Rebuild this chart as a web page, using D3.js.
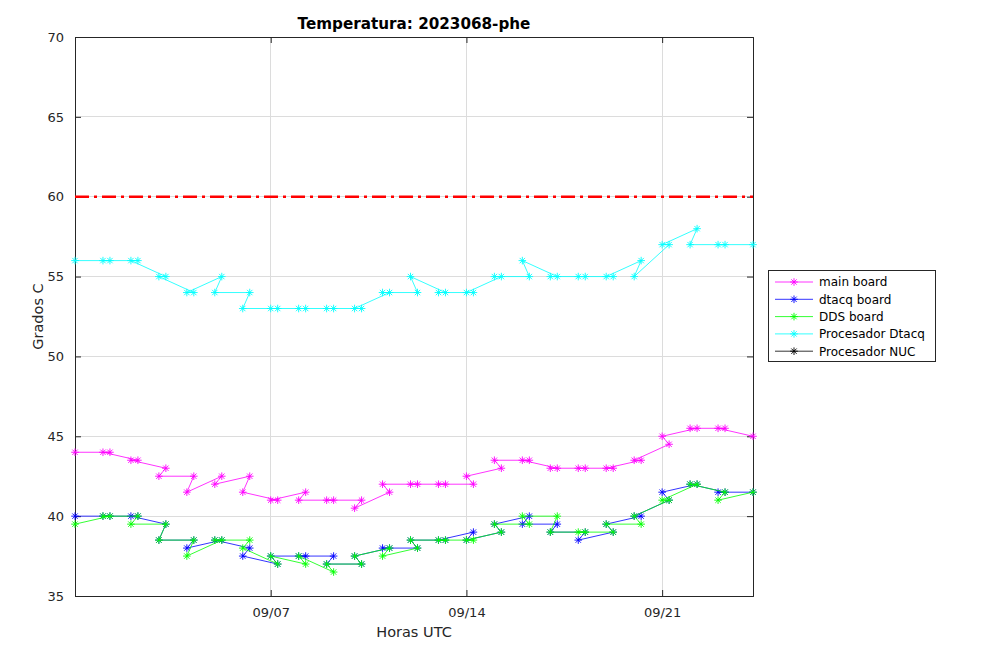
<!DOCTYPE html>
<html><head><meta charset="utf-8">
<script src="https://cdn.jsdelivr.net/npm/d3@7"></script>
<style>
body{margin:0;background:#fff;}
svg{display:block;font-family:"DejaVu Sans",sans-serif;}
</style>
</head><body>
<svg id="c" width="1008" height="661"></svg>
<script>
// ---- data (in acquisition order) ----
const tiempos = [
"2023-08-31T00:00Z",
"2023-09-01T06:00Z","2023-09-01T00:00Z","2023-09-02T06:00Z","2023-09-02T00:00Z",
"2023-09-03T06:00Z","2023-09-03T00:00Z","2023-09-04T06:00Z","2023-09-04T00:00Z",
"2023-09-05T06:00Z","2023-09-05T00:00Z","2023-09-06T06:00Z","2023-09-06T00:00Z",
"2023-09-07T06:00Z","2023-09-07T00:00Z","2023-09-08T06:00Z","2023-09-08T00:00Z",
"2023-09-09T06:00Z","2023-09-09T00:00Z","2023-09-10T06:00Z","2023-09-10T00:00Z",
"2023-09-11T06:00Z","2023-09-11T00:00Z","2023-09-12T06:00Z","2023-09-12T00:00Z",
"2023-09-13T06:00Z","2023-09-13T00:00Z","2023-09-14T06:00Z","2023-09-14T00:00Z",
"2023-09-15T06:00Z","2023-09-15T00:00Z","2023-09-16T06:00Z","2023-09-16T00:00Z",
"2023-09-17T06:00Z","2023-09-17T00:00Z","2023-09-18T06:00Z","2023-09-18T00:00Z",
"2023-09-19T06:00Z","2023-09-19T00:00Z","2023-09-20T06:00Z","2023-09-20T00:00Z",
"2023-09-21T06:00Z","2023-09-21T00:00Z","2023-09-22T06:00Z","2023-09-22T00:00Z",
"2023-09-23T06:00Z","2023-09-23T00:00Z",
"2023-09-24T06:00Z"];

const mainBoard = [44,
 44,44, 43.5,43.5, 43,42.5, 42.5,41.5, 42.5,42, 42.5,41.5, 41,41, 41.5,41,
 41,41, 41,40.5, 41.5,42, 42,42, 42,42, 42,42.5, 43,43.5, 43.5,43.5,
 43,43, 43,43, 43,43, 43.5,43.5, 44.5,45, 45.5,45.5, 45.5,45.5,
 45];
const dtacqBoard = [40,
 40,40, 40,40, 39.5,38.5, 38.5,38, 38.5,38.5, 38,37.5, 37,37.5, 37.5,37.5,
 37.5,37, 37,37.5, 38,38, 38,38.5, 38.5,38.5, 39,38.5, 39,39.5, 40,39.5,
 39.5,39, 39,38.5, 39,39.5, 40,40, 41,41.5, 42,42, 41.5,41.5,
 41.5];
const ddsBoard = [39.5,
 40,40, 40,39.5, 39.5,38.5, 38.5,37.5, 38.5,38.5, 38.5,38, 37,37.5, 37,37.5,
 36.5,37, 37,37.5, 38,37.5, 38,38.5, 38.5,38.5, 38.5,38.5, 39,39.5, 39.5,40,
 40,39, 39,39, 39,39.5, 39.5,40, 41,41, 42,42, 41.5,41,
 41.5];
const procDtacq = [56,
 56,56, 56,56, 55,55, 54,54, 55,54, 54,53, 53,53, 53,53,
 53,53, 53,53, 54,54, 54,55, 54,54, 54,54, 55,55, 55,56,
 55,55, 55,55, 55,55, 56,55, 57,57, 58,57, 57,57,
 57];
const procNUC = [];   // no readings in this period

const limite = 60;
const yTicks = [35,40,45,50,55,60,65,70];
const xTickLabels = ["09/07","09/14","09/21"];
const xTickDates = ["2023-09-07T00:00Z","2023-09-14T00:00Z","2023-09-21T00:00Z"];
const xDomain = ["2023-08-31T00:00Z","2023-09-24T06:00Z"];

const series = [
  {name:"main board", values:mainBoard, color:"#ff00ff"},
  {name:"dtacq board", values:dtacqBoard, color:"#0000ff"},
  {name:"DDS board", values:ddsBoard, color:"#00ff00"},
  {name:"Procesador Dtacq", values:procDtacq, color:"#00ffff"},
  {name:"Procesador NUC", values:procNUC, color:"#000000"}
];

// ---- layout ----
const L=75, R=753, T=37, B=596;
const svg = d3.select("#c");
const axc = "#262626";
const parse = s => new Date(s);
const x = d3.scaleUtc().domain(xDomain.map(parse)).range([L,R]);
const y = d3.scaleLinear().domain([35,70]).range([B,T]);

// grid
const g = svg.append("g");
g.selectAll(".gy").data(yTicks.slice(1,-1)).join("line")
  .attr("x1",L).attr("x2",R).attr("y1",d=>y(d)).attr("y2",d=>y(d))
  .attr("stroke","#dcdcdc").attr("stroke-width",1).attr("shape-rendering","crispEdges");
g.selectAll(".gx").data(xTickDates).join("line")
  .attr("x1",d=>x(parse(d))).attr("x2",d=>x(parse(d))).attr("y1",T).attr("y2",B)
  .attr("stroke","#dcdcdc").attr("stroke-width",1).attr("shape-rendering","crispEdges");

// axes via d3
const tl = 6;
const yAxis = d3.axisLeft(y).tickValues(yTicks).tickSize(-tl).tickPadding(tl+5).tickFormat(d3.format("d"));
const yAxisR = d3.axisRight(y).tickValues(yTicks).tickSize(-tl).tickFormat("");
const xAxis = d3.axisBottom(x).tickValues(xTickDates.map(parse)).tickSize(-tl).tickPadding(tl+6)
   .tickFormat((d,i)=>xTickLabels[i]);
const xAxisT = d3.axisTop(x).tickValues(xTickDates.map(parse)).tickSize(-tl).tickFormat("");

function styleAxis(sel){
  sel.select(".domain").attr("stroke",axc).attr("stroke-width",1);
  sel.selectAll(".tick line").attr("stroke",axc);
  sel.selectAll(".tick text").attr("fill",axc).style("font-size","13px")
     .style("font-family","'DejaVu Sans',sans-serif");
}
svg.append("g").attr("transform",`translate(${L},0)`).call(yAxis).call(styleAxis);
svg.append("g").attr("transform",`translate(${R},0)`).call(yAxisR).call(styleAxis);
svg.append("g").attr("transform",`translate(0,${B})`).call(xAxis).call(styleAxis);
svg.append("g").attr("transform",`translate(0,${T})`).call(xAxisT).call(styleAxis);

// star marker path
function star(r){
  const d = r*0.7071;
  return `M${-r},0L${r},0M0,${-r}L0,${r}M${-d},${-d}L${d},${d}M${-d},${d}L${d},${-d}`;
}

// series
const plot = svg.append("g");
series.forEach(s=>{
  const pts = s.values.map((v,i)=>({t:parse(tiempos[i]), v}));
  if(!pts.length) return;
  plot.append("path").datum(pts)
    .attr("d", d3.line().x(d=>x(d.t)).y(d=>y(d.v)))
    .attr("fill","none").attr("stroke",s.color).attr("stroke-width",0.8);
  plot.selectAll(null).data(pts).join("path")
    .attr("d",star(3.8)).attr("transform",d=>`translate(${x(d.t)},${y(d.v)})`)
    .attr("stroke",s.color).attr("stroke-width",0.9).attr("fill","none");
});

// threshold line
svg.append("line").attr("x1",L).attr("x2",R).attr("y1",y(limite)).attr("y2",y(limite))
  .attr("stroke","#ff0000").attr("stroke-width",2.6).attr("stroke-dasharray","14,5,3,5");

// title & labels
svg.append("text").attr("x",(L+R)/2).attr("y",29).attr("text-anchor","middle")
  .style("font-size","15.2px").style("font-weight","bold").attr("fill","#000")
  .text("Temperatura: 2023068-phe");
svg.append("text").attr("x",(L+R)/2).attr("y",637).attr("text-anchor","middle")
  .style("font-size","14.5px").attr("fill",axc).text("Horas UTC");
svg.append("text").attr("transform",`translate(43,${(T+B)/2}) rotate(-90)`).attr("text-anchor","middle")
  .style("font-size","14.5px").attr("fill",axc).text("Grados C");

// legend
const lg = svg.append("g");
const lx=768, ly=270, lw=167, lh=91, rowH=17.3;
lg.append("rect").attr("x",lx+0.5).attr("y",ly+0.5).attr("width",lw).attr("height",lh)
  .attr("fill","#fff").attr("stroke",axc).attr("stroke-width",1);
series.forEach((s,i)=>{
  const cy = ly+12+i*rowH;
  lg.append("line").attr("x1",lx+7).attr("x2",lx+45).attr("y1",cy).attr("y2",cy)
    .attr("stroke",s.color).attr("stroke-width",0.8);
  lg.append("path").attr("d",star(3.8)).attr("transform",`translate(${lx+26},${cy})`)
    .attr("stroke",s.color).attr("stroke-width",0.9).attr("fill","none");
  lg.append("text").attr("x",lx+51).attr("y",cy+4.3).style("font-size","12px").attr("fill","#000")
    .text(s.name);
});
</script>
</body></html>
